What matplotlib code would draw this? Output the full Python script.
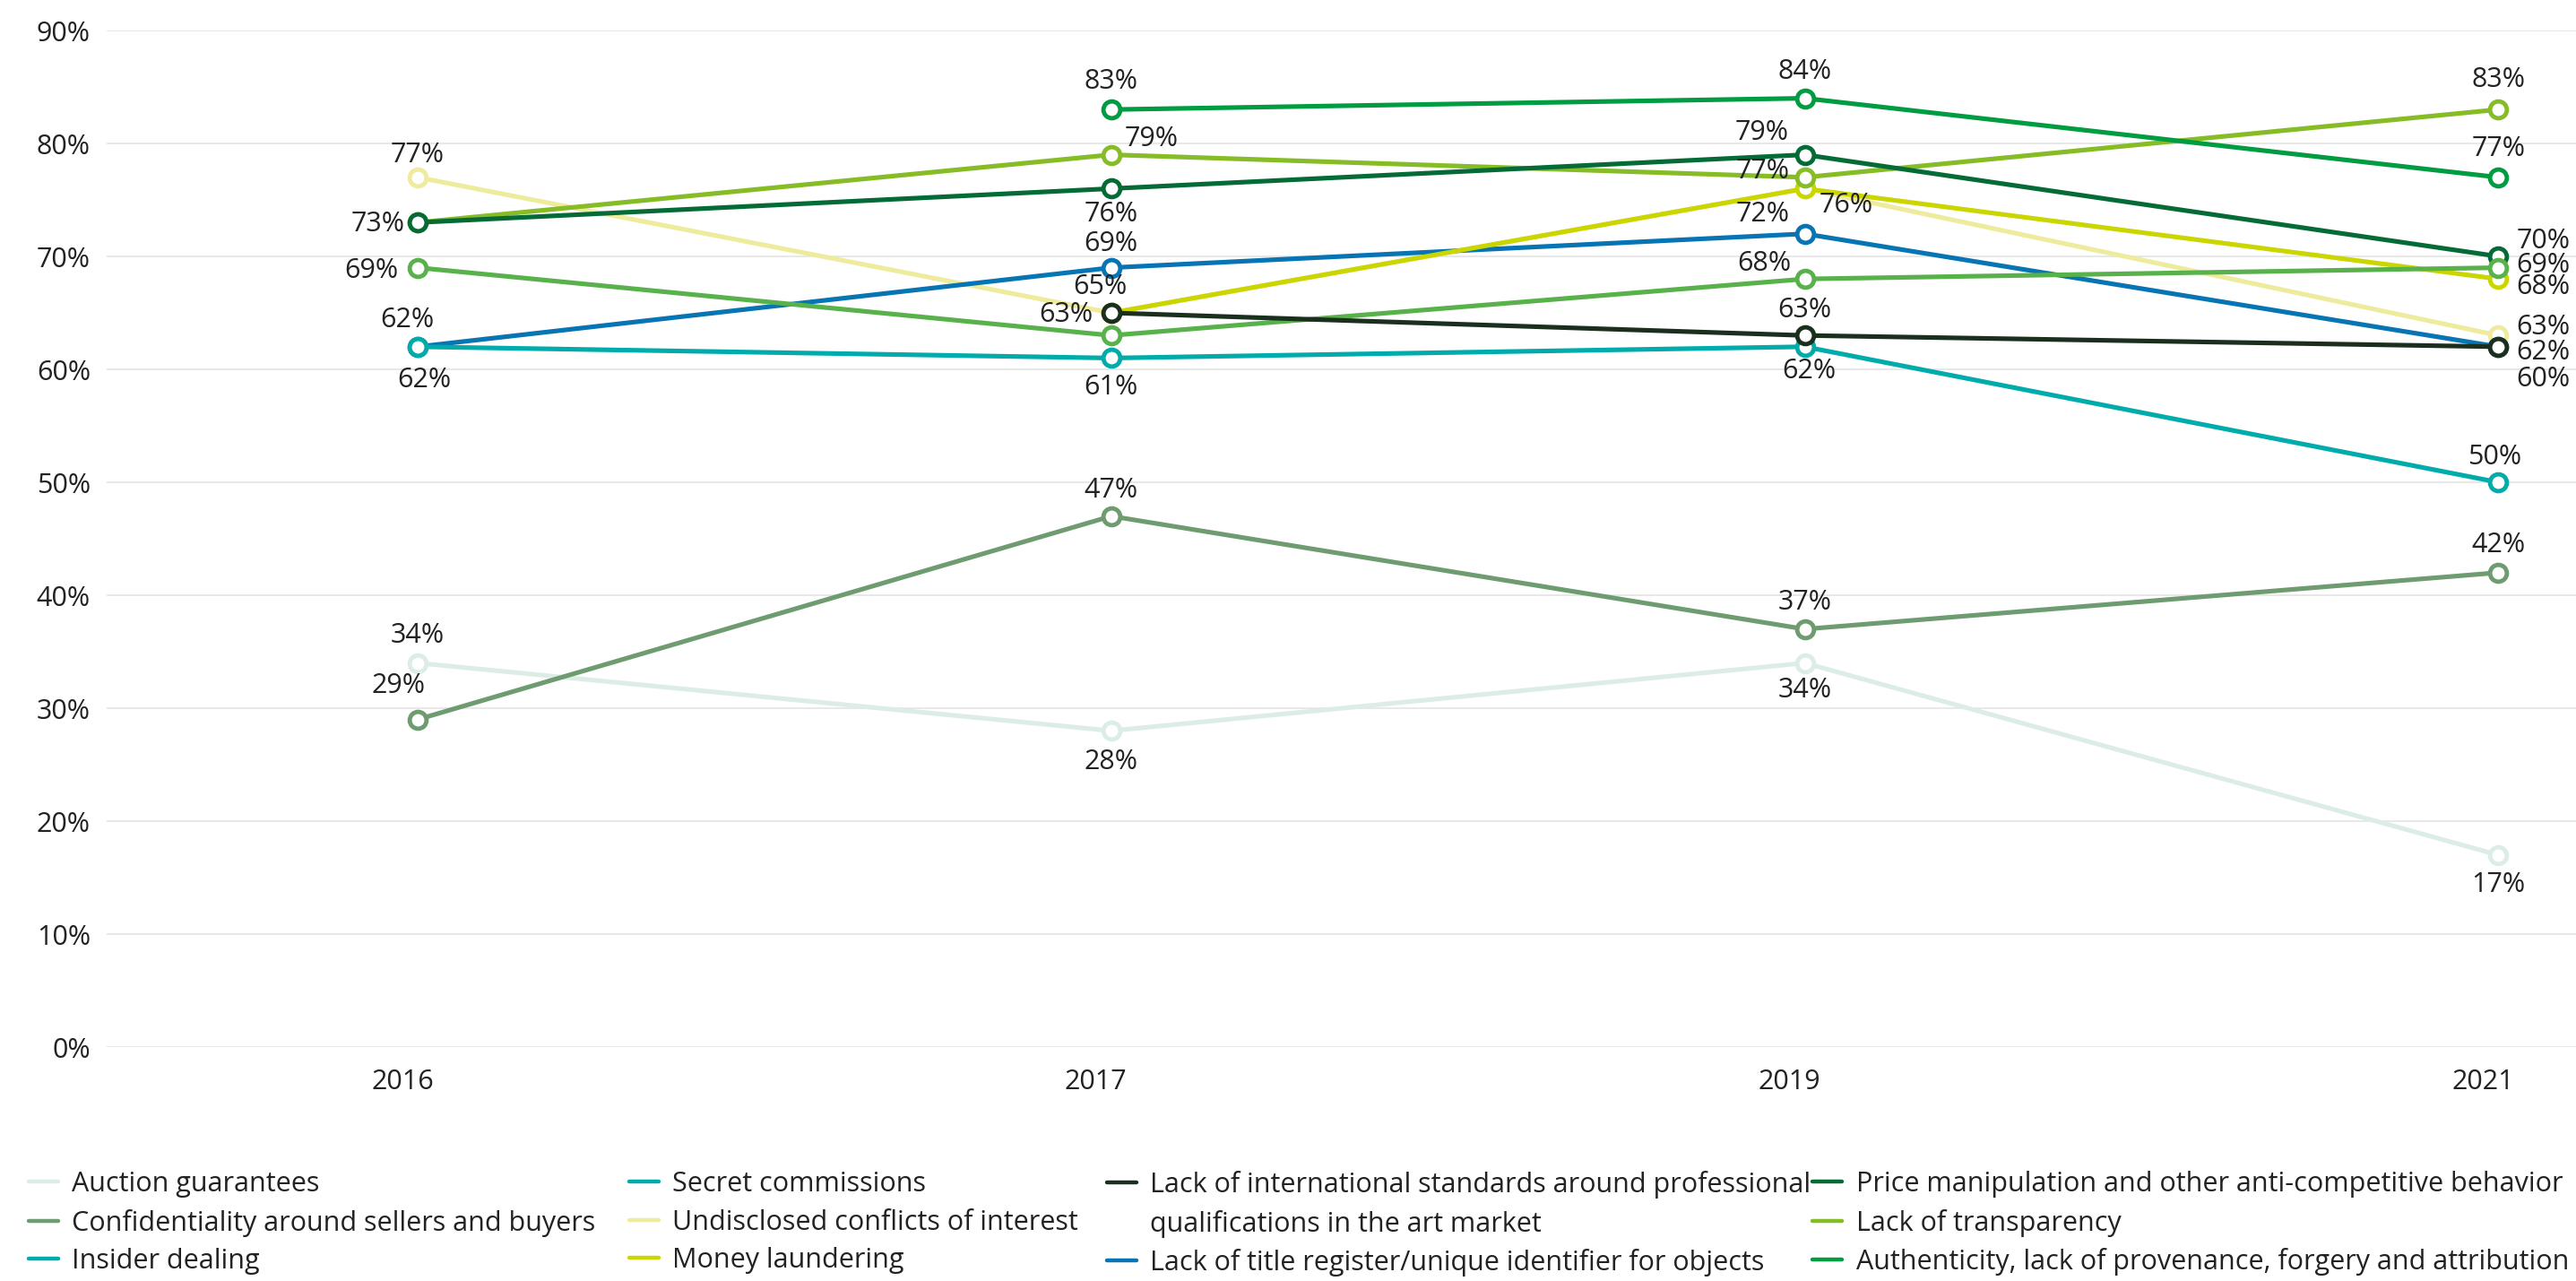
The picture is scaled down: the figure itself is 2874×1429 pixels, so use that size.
import numpy as np
import matplotlib.pyplot as plt
from matplotlib.lines import Line2D
from matplotlib.transforms import ScaledTranslation

plt.rcParams['font.family'] = ['Open Sans', 'DejaVu Sans']

# --- dados ---
years = ['2016', '2017', '2019', '2021']

auction = [34, 28, 34, 17]
confidentiality = [29, 47, 37, 42]
insider = [62, 61, 62, 50]
secret = [69, 63, 68, 69]
undisclosed = [77, 65, 76, 63]
laundering = [None, 65, 76, 68]
intl_standards = [None, 65, 63, 62]
title_register = [62, 69, 72, 62]
price_manip = [73, 76, 79, 70]
transparency = [73, 79, 77, 83]
authenticity = [None, 83, 84, 77]

names = [
    'Auction guarantees',
    'Confidentiality around sellers and buyers',
    'Insider dealing',
    'Secret commissions',
    'Undisclosed conflicts of interest',
    'Money laundering',
    'Lack of international standards around professional\nqualifications in the art market',
    'Lack of title register/unique identifier for objects',
    'Price manipulation and other anti-competitive behavior',
    'Lack of transparency',
    'Authenticity, lack of provenance, forgery and attribution',
]
series = [auction, confidentiality, insider, secret, undisclosed, laundering,
          intl_standards, title_register, price_manip, transparency, authenticity]

# rotulo que aparece diferente do valor no original
label_override = {(6, 3): '60%'}

# --- estilo ---
line_colors = ['#dcede6', '#6e9c70', '#00abab', '#58b14b', '#efeb9c', '#cbd600',
               '#1b2f1f', '#0774b3', '#056b36', '#86bc25', '#009c42']
legend_colors = ['#dcede6', '#6e9c70', '#00abab', '#00abab', '#efeb9c', '#cbd600',
                 '#1b2f1f', '#0774b3', '#056b36', '#86bc25', '#009c42']
zorders = [2.0, 2.0, 3.1, 3.5, 2.0, 2.3, 5.0, 2.1, 3.0, 2.5, 3.0]

# deslocamento dos rotulos em pixels (dx, dy para baixo); None = oculto
label_px = [
    [(0, -31), (0, 35), (0, 30), (0, 33)],
    [(-22, -38), (0, -29), (0, -30), (0, -31)],
    [(7, 37), (0, 33), (5, 27), (-4, -28)],
    [(-52, 3), (-50, -23), (-45, -17), (50, -3)],
    [(0, -25), None, (46, 19), (50, -9)],
    [None, None, None, (50, 9)],
    [None, (-12, -29), (0, -28), (50, 36)],
    [(-12, -30), (0, -27), (-47, -22), (50, 6)],
    [(-44, 2), (0, 29), (-48, -25), (50, -17)],
    [None, (45, -18), (-47, -7), (0, -33)],
    [None, (0, -31), (0, -30), (0, -32)],
]

W, H, DPI = 2874, 1429, 100
PX = 72 / DPI
text_color = '#222222'

fig = plt.figure(figsize=(W / DPI, H / DPI), dpi=DPI)
ax = fig.add_axes([119 / W, (H - 1168) / H, (W - 119) / W, (1168 - 34) / H])

x = np.arange(len(years))
ax.set_xlim(-0.4485, 3.112)
ax.set_ylim(0, 90)

for k, vals in enumerate(series):
    y = np.array([np.nan if v is None else v for v in vals], dtype=float)
    ax.plot(x, y, color=line_colors[k], lw=3.7, zorder=zorders[k],
            marker='o', ms=13.5, mew=3.5, mfc='white', mec=line_colors[k],
            solid_capstyle='round', clip_on=False)
    for i in range(len(years)):
        off = label_px[k][i]
        if off is None or np.isnan(y[i]):
            continue
        txt = label_override.get((k, i), f'{vals[i]:.0f}%')
        ax.annotate(txt, (x[i], y[i]), xytext=(off[0] * PX, -off[1] * PX),
                    textcoords='offset points', ha='center', va='center',
                    fontsize=22, color=text_color, zorder=10,
                    annotation_clip=False)

# eixos
ax.set_yticks(np.arange(0, 91, 10))
ax.set_yticklabels([f'{v}%' for v in range(0, 91, 10)])
ax.set_xticks(x)
ax.set_xticklabels(years)
ax.tick_params(axis='both', length=0, labelsize=22, colors=text_color)
ax.tick_params(axis='y', pad=13)
ax.tick_params(axis='x', pad=17)
shift = ScaledTranslation(-17 / DPI, 0, fig.dpi_scale_trans)
for lbl in ax.get_xticklabels():
    lbl.set_transform(lbl.get_transform() + shift)
ax.yaxis.grid(True, color='#e6e6e6', lw=1.3)
ax.set_axisbelow(True)
for s in ax.spines.values():
    s.set_visible(False)

# legenda em 4 colunas
col_items = [[0, 1, 2], [3, 4, 5], [6, 'wrap', 7], [8, 9, 10]]
col_x = [32, 702, 1235, 2043]
legs = []
for items, cx in zip(col_items, col_x):
    handles, labels = [], []
    for it in items:
        if it == 'wrap':
            handles.append(Line2D([], [], color='none'))
            labels.append(names[6].split('\n')[1])
        elif it == 6:
            handles.append(Line2D([], [], color=legend_colors[it], lw=3.2,
                                  solid_capstyle='round'))
            labels.append(names[6].split('\n')[0])
        else:
            handles.append(Line2D([], [], color=legend_colors[it], lw=3.2,
                                  solid_capstyle='round'))
            labels.append(names[it])
    leg = fig.legend(handles, labels, loc='upper left',
                     bbox_to_anchor=(cx / W, 1 - 1306 / H), frameon=False,
                     fontsize=22, handlelength=1.08, handletextpad=0.5,
                     labelspacing=0.41, borderpad=0, borderaxespad=0,
                     labelcolor=text_color)
    legs.append((leg, cx))

# a ultima coluna nao pode passar da borda direita
fig.canvas.draw()
leg, cx = legs[-1]
bb = leg.get_window_extent()
if bb.x1 > W - 8:
    cx = cx - (bb.x1 - (W - 8))
    leg.set_bbox_to_anchor((cx / W, 1 - 1306 / H), transform=fig.transFigure)

fig.savefig('out.png', dpi=DPI)
